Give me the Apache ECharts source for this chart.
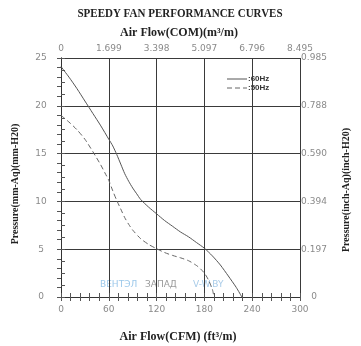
<!DOCTYPE html>
<html><head><meta charset="utf-8">
<script src="https://cdn.jsdelivr.net/npm/echarts@6/dist/echarts.min.js"></script>
<style>html,body{margin:0;padding:0;background:#fff}#c{width:361px;height:346px}</style>
</head><body><div id="c"></div>
<script>
var cfm60 = [0,10,20,30,40,50,60,65,70,75,80,85,90,95,100,110,120,130,140,150,160,170,180,190,200,210,220,227];
var p60   = [24.1,23.0,21.8,20.5,19.2,17.9,16.5,15.8,14.9,13.9,12.9,12.1,11.4,10.8,10.2,9.4,8.7,8.0,7.4,6.8,6.3,5.7,5.1,4.3,3.35,2.2,1.0,0];
var cfm50 = [0,10,20,30,40,50,55,60,65,70,75,80,85,90,100,110,120,130,140,150,160,170,175,180,185,190,192];
var p50   = [19.0,18.3,17.5,16.5,15.2,13.8,13.0,12.2,11.1,10.1,9.2,8.3,7.6,7.0,6.1,5.5,5.05,4.65,4.35,4.1,3.8,3.3,2.95,2.5,1.8,0.8,0];
var bottomTicks = ['0','60','120','180','240','300'];
var topTicks = ['0','1.699','3.398','5.097','6.796','8.495'];
var leftTicks = ['0','5','10','15','20','25'];
var rightTicks = ['0','0.197','0.394','0.590','0.788','0.985'];

function pairs(xs, ys){ return xs.map(function(x,i){return [x, ys[i]];}); }

var chart = echarts.init(document.getElementById('c'), null, {renderer:'canvas'});
var labelStyle = {color:'#8a8a8a', fontSize:9, fontFamily:'DejaVu Sans'};
var axisLine = {show:true, lineStyle:{color:'#333', width:1}};
var tick = {show:true, inside:true, length:4, lineStyle:{color:'#555'}};
function xAxis(pos, labels, margin, showSplit){
  return {type:'value', position:pos, min:0, max:300, interval:60,
    axisLine:axisLine, axisTick:tick,
    splitLine:{show:showSplit, lineStyle:{color:'#3a3a3a', width:1}},
    axisLabel:Object.assign({margin:margin, formatter:function(v){return labels[Math.round(v/60)];}}, labelStyle)};
}
function yAxis(pos, labels, margin, showSplit){
  return {type:'value', position:pos, min:0, max:25, interval:5,
    axisLine:axisLine, axisTick:tick,
    splitLine:{show:showSplit, lineStyle:{color:'#3a3a3a', width:1}},
    axisLabel:Object.assign({margin:margin, align:'center', formatter:function(v){return labels[Math.round(v/5)];}}, labelStyle)};
}
function tickAxisX(pos){
  return {type:'value', position:pos, min:0, max:300, interval:12,
    axisLine:{show:false}, axisTick:tick, axisLabel:{show:false}, splitLine:{show:false}};
}
function tickAxisY(pos, step){
  return {type:'value', position:pos, min:0, max:25, interval:step,
    axisLine:{show:false}, axisTick:tick, axisLabel:{show:false}, splitLine:{show:false}};
}
chart.setOption({
  animation:false,
  backgroundColor:'#fff',
  grid:{left:61, right:61, top:58, bottom:49},
  xAxis:[xAxis('bottom', bottomTicks, 8, true), xAxis('top', topTicks, 5, false), tickAxisX('bottom'), tickAxisX('top')],
  yAxis:[yAxis('left', leftTicks, 20, true), yAxis('right', rightTicks, 14, false), tickAxisY('left', 1.25), tickAxisY('right', 1)],
  series:[
    {type:'line', xAxisIndex:0, yAxisIndex:0, data:pairs(cfm60,p60), smooth:0.25, showSymbol:false,
     lineStyle:{color:'#555', width:1}},
    {type:'line', xAxisIndex:0, yAxisIndex:0, data:pairs(cfm50,p50), smooth:0.25, showSymbol:false,
     lineStyle:{color:'#666', width:1, type:[5,3]}}
  ],
  graphic:[
    {type:'text', x:180, y:14, scaleY:1.2, style:{text:'SPEEDY FAN PERFORMANCE CURVES', font:'bold 11px "Liberation Serif"', fill:'#222', align:'center', verticalAlign:'middle'}},
    {type:'text', x:179, y:33, style:{text:'Air Flow(COM)(m³/m)', font:'bold 12px "Liberation Serif"', fill:'#222', align:'center', verticalAlign:'middle'}},
    {type:'text', x:178, y:337, style:{text:'Air Flow(CFM) (ft³/m)', font:'bold 12px "Liberation Serif"', fill:'#222', align:'center', verticalAlign:'middle'}},
    {type:'text', x:15, y:184, rotation:Math.PI/2, style:{text:'Pressure(mm-Aq)(mm-H20)', font:'bold 10px "Liberation Serif"', fill:'#222', align:'center', verticalAlign:'middle'}},
    {type:'text', x:346, y:190, rotation:Math.PI/2, style:{text:'Pressure(inch-Aq)(inch-H20)', font:'bold 10px "Liberation Serif"', fill:'#222', align:'center', verticalAlign:'middle'}},
    {type:'line', shape:{x1:227, y1:79, x2:247, y2:79}, style:{stroke:'#555', lineWidth:1}},
    {type:'line', shape:{x1:227, y1:88, x2:247, y2:88}, style:{stroke:'#666', lineWidth:1, lineDash:[5,3]}},
    {type:'text', x:248, y:79, style:{text:':60Hz', font:'bold 8px "Liberation Sans"', fill:'#333', verticalAlign:'middle'}},
    {type:'text', x:248, y:88, style:{text:':50Hz', font:'bold 8px "Liberation Sans"', fill:'#333', verticalAlign:'middle'}},
    {type:'text', x:100, y:285, style:{text:'ВЕНТЭЛ', font:'9px "DejaVu Sans"', fill:'#9cc8ea', verticalAlign:'middle'}},
    {type:'text', x:145, y:285, style:{text:'ЗАПАД', font:'9px "DejaVu Sans"', fill:'#9a9a9a', verticalAlign:'middle'}},
    {type:'text', x:193, y:285, style:{text:'V-W.BY', font:'9px "DejaVu Sans"', fill:'#a8cbe8', verticalAlign:'middle'}}
  ]
});
</script></body></html>
